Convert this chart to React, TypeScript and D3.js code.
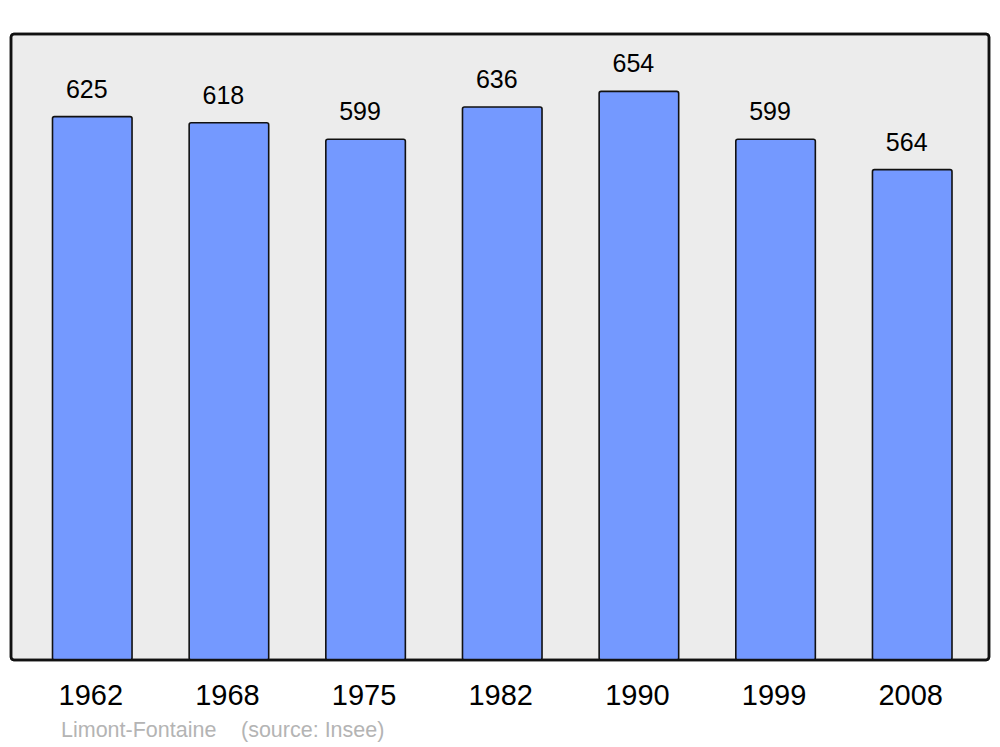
import React from "react";
import * as d3 from "d3";

const years = ["1962", "1968", "1975", "1982", "1990", "1999", "2008"];
const population = [625, 618, 599, 636, 654, 599, 564];
const townName = "Limont-Fontaine";
const sourceText = "(source: Insee)";

export default function App() {
  const W = 1000, H = 747;
  const frame = { x0: 11, y0: 34, x1: 989, y1: 660 };
  const x = d3.scaleBand<string>().domain(years).range([52.5, 952]).paddingInner(0.418).paddingOuter(0);
  const y = d3.scaleLinear().domain([0, 720]).range([frame.y1, frame.y0]);
  const font = "'Liberation Sans', Arial, sans-serif";
  return (
    <svg width={W} height={H} style={{ position: "absolute", left: 0, top: 0 }} fontFamily={font}>
      <rect x={0} y={0} width={W} height={H} fill="#ffffff" />
      <rect x={frame.x0} y={frame.y0} width={frame.x1 - frame.x0} height={frame.y1 - frame.y0}
        rx={3} ry={3} fill="#ececec" stroke="#111" strokeWidth={2.5} />
      {years.map((yr, i) => {
        const bx = x(yr)!;
        const bw = x.bandwidth();
        const top = y(population[i]);
        return (
          <g key={yr}>
            <rect x={bx} y={top} width={bw} height={y(0) - top} rx={2} ry={2}
              fill="#7499ff" stroke="#111" strokeWidth={1.6} />
            <text x={bx + bw / 2 - 5.5} y={top - 19} textAnchor="middle" fontSize={25} fill="#000">
              {population[i]}
            </text>
            <text x={bx + bw / 2 - 1.5} y={705} textAnchor="middle" fontSize={29} fill="#000">
              {yr}
            </text>
          </g>
        );
      })}
      <rect x={frame.x0} y={frame.y0} width={frame.x1 - frame.x0} height={frame.y1 - frame.y0}
        rx={3} ry={3} fill="none" stroke="#111" strokeWidth={2.5} />
      <text x={61} y={737} fontSize={21.5} fill="#b4b4b4">{townName}</text>
      <text x={241} y={737} fontSize={21.5} fill="#b4b4b4">{sourceText}</text>
    </svg>
  );
}
